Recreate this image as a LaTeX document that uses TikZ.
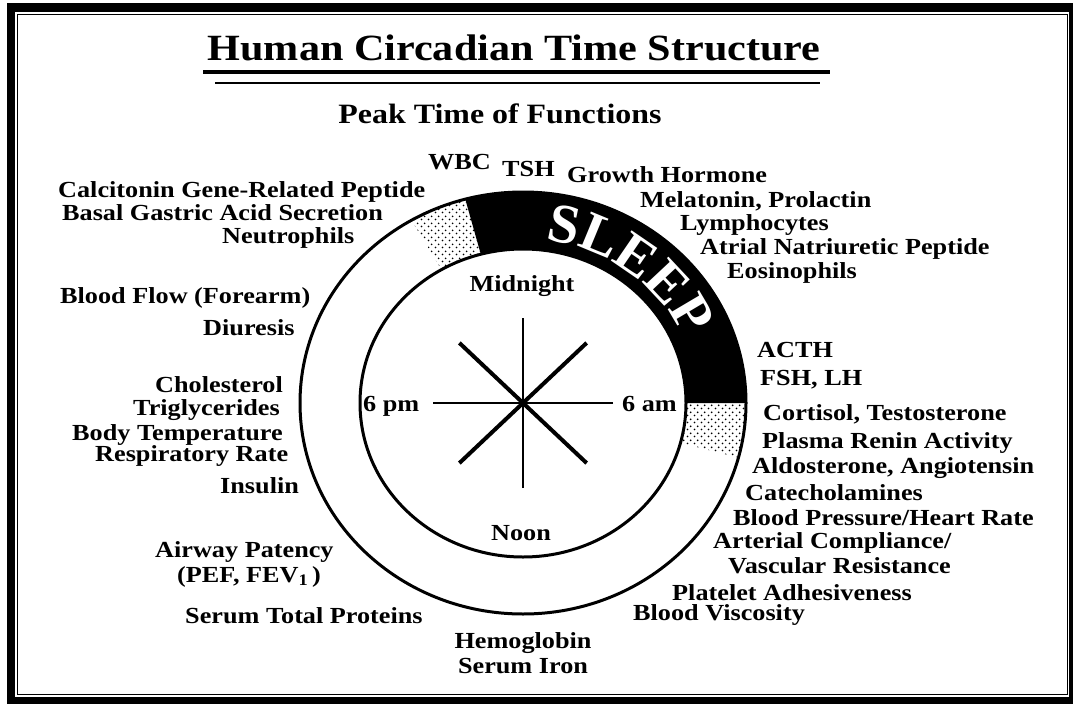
\documentclass[tikz,border=0pt]{standalone}
\usepackage{fontspec}
\setmainfont{Liberation Serif}[FakeStretch=1.14]
\newfontfamily\sleepfam{Liberation Serif}
\usepackage{tikz}
\usetikzlibrary{calc, patterns, decorations.text}
\newcommand{\lblfont}{\fontsize{23}{26}\selectfont\bfseries}
\newcommand{\titlefont}{\fontsize{37}{40}\selectfont\bfseries}
\newcommand{\peakfont}{\fontsize{28}{30}\selectfont\bfseries}
\newcommand{\sleepfont}{\sleepfam\fontsize{56}{56}\selectfont\bfseries}
\pgfdeclarepatternformonly{sparsedots}{\pgfpointorigin}{\pgfqpoint{7pt}{7pt}}{\pgfqpoint{7pt}{7pt}}{%
  \pgfpathcircle{\pgfqpoint{1.75pt}{1.75pt}}{1.05pt}%
  \pgfpathcircle{\pgfqpoint{5.25pt}{5.25pt}}{1.05pt}%
  \pgfusepath{fill}}

\begin{document}
\begin{tikzpicture}[
        x=1pt, y=-1pt,
        lbl/.style={font=\lblfont, inner sep=0pt, anchor=base west},
        lblc/.style={font=\lblfont, inner sep=0pt, anchor=base},
        ring/.style={draw=black, line width=3pt},
        axisln/.style={draw=black, line width=2.6pt},
        diagln/.style={draw=black, line width=4pt}
    ]
        \useasboundingbox (0,0) rectangle (1073,704);
        % ===== frame =====
        \fill[black] (7,3) rectangle (1073,704);
        \fill[white] (15,12) rectangle (1069,697);
        \draw[line width=1.8pt] (17.5,14.5) rectangle (1067.5,694.5);
        % ===== title =====
        \node[font=\titlefont, inner sep=0pt, anchor=base] (title) at (514,60) {Human Circadian Time Structure};
        \draw[line width=3.5pt] (203,72) -- (830,72);
        \draw[line width=2.5pt] (215,83) -- (820,83);
        \node[font=\peakfont, inner sep=0pt, anchor=base] (peak) at (500,123) {Peak Time of Functions};
        % ===== clock =====
        \coordinate (c) at (523,403);
        % sleep band (23:00 - 06:00)
        \fill[black] ($(c)+(-105:223 and 211)$) arc[start angle=-105, end angle=0, x radius=223, y radius=211]
            -- ($(c)+(0:163 and 154)$) arc[start angle=0, end angle=-105, x radius=163, y radius=154] -- cycle;
        % dotted hours either side
        \fill[pattern=sparsedots] ($(c)+(-120:223 and 211)$) arc[start angle=-120, end angle=-105, x radius=223, y radius=211]
            -- ($(c)+(-105:163 and 154)$) arc[start angle=-105, end angle=-120, x radius=163, y radius=154] -- cycle;
        \fill[pattern=sparsedots] ($(c)+(0:223 and 211)$) arc[start angle=0, end angle=15, x radius=223, y radius=211]
            -- ($(c)+(15:163 and 154)$) arc[start angle=15, end angle=0, x radius=163, y radius=154] -- cycle;
        \draw[ring] (c) ellipse[x radius=223, y radius=211];
        \draw[ring] (c) ellipse[x radius=163, y radius=154];
        \path[decorate, decoration={text along path, text={|\sleepfont|SLEEP}, text align=center, text color=white}]
            ($(c)+(-95:175 and 164)$) arc[start angle=-95, end angle=-10, x radius=175, y radius=164];
        % spokes
        \foreach \a in {0,90}
            \draw[axisln] ($(c)+(\a:90 and 85)$) -- ($(c)+(\a+180:90 and 85)$);
        \foreach \a in {45,135}
            \draw[diagln] ($(c)+(\a:90 and 85)$) -- ($(c)+(\a+180:90 and 85)$);
        % inner labels
        \node[lblc] (midnight) at (522,291) {Midnight};
        \node[lbl] (pm) at (363,411) {6 pm};
        \node[lbl] (am) at (622,411) {6 am};
        \node[lblc] (noon) at (521,540) {Noon};
        % ===== left side =====
        \node[lbl] (cgrp) at (58,197) {Calcitonin Gene-Related Peptide};
        \node[lbl] (basal) at (62,220) {Basal Gastric Acid Secretion};
        \node[lbl] (neutro) at (222,243) {Neutrophils};
        \node[lbl] (flow) at (60,303) {Blood Flow (Forearm)};
        \node[lbl] (diur) at (203,335) {Diuresis};
        \node[lbl] (chol) at (155,392) {Cholesterol};
        \node[lbl] (trig) at (133,415) {Triglycerides};
        \node[lbl] (temp) at (72,440) {Body Temperature};
        \node[lbl] (resp) at (95,461) {Respiratory Rate};
        \node[lbl] (insulin) at (220,493) {Insulin};
        \node[lbl] (airway) at (155,557) {Airway Patency};
        \node[lbl] (pef) at (177,582) {(PEF, FEV\textsubscript{1}\,)};
        \node[lbl] (protein) at (185,623) {Serum Total Proteins};
        \node[lblc] (hemo) at (523,648) {Hemoglobin};
        \node[lblc] (iron) at (523,673) {Serum Iron};
        % ===== right side =====
        \node[lbl] (wbc) at (428,169) {WBC};
        \node[lbl] (tsh) at (502,176) {TSH};
        \node[lbl] (growth) at (567,182) {Growth Hormone};
        \node[lbl] (melat) at (640,207) {Melatonin, Prolactin};
        \node[lbl] (lymph) at (680,230) {Lymphocytes};
        \node[lbl] (anp) at (700,254) {Atrial Natriuretic Peptide};
        \node[lbl] (eosin) at (727,278) {Eosinophils};
        \node[lbl] (acth) at (757,357) {ACTH};
        \node[lbl] (fsh) at (760,385) {FSH, LH};
        \node[lbl] (cort) at (763,420) {Cortisol, Testosterone};
        \node[lbl] (renin) at (762,448) {Plasma Renin Activity};
        \node[lbl] (aldo) at (752,473) {Aldosterone, Angiotensin};
        \node[lbl] (catech) at (745,500) {Catecholamines};
        \node[lbl] (bp) at (733,525) {Blood Pressure/Heart Rate};
        \node[lbl] (artc) at (713,548) {Arterial Compliance/};
        \node[lbl] (vasc) at (728,573) {Vascular Resistance};
        \node[lbl] (plat) at (672,600) {Platelet Adhesiveness};
        \node[lbl] (visc) at (633,620) {Blood Viscosity};
    \end{tikzpicture}
\end{document}
